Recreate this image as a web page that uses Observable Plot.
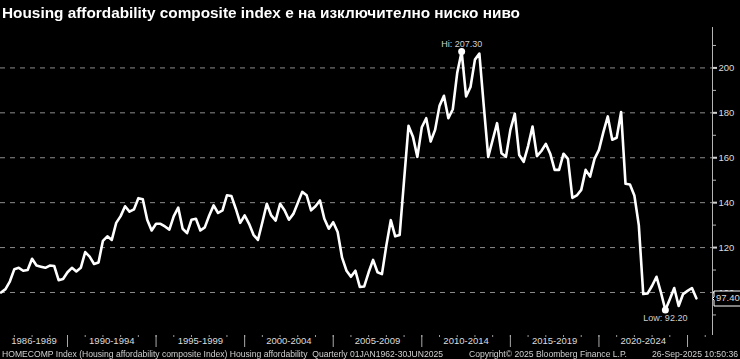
<!DOCTYPE html>
<html><head><meta charset="utf-8">
<script src="https://cdn.jsdelivr.net/npm/d3@7"></script>
<script src="https://cdn.jsdelivr.net/npm/@observablehq/plot@0.6"></script>
<style>
html,body{margin:0;padding:0;background:#000;width:740px;height:359px;overflow:hidden;}
#wrap{position:relative;width:740px;height:359px;background:#000;}
.fit{position:absolute;white-space:nowrap;transform-origin:0 0;line-height:1.15;}
#title{left:2px;top:4px;font:bold 15px "Liberation Sans",Arial,sans-serif;color:#fff;}
#chart{position:absolute;left:0;top:27px;}
.foot{top:347.5px;font:9.5px "Liberation Sans",Arial,sans-serif;color:#d0d0d0;}
</style></head>
<body><div id="wrap">
<div id="title" class="fit" data-w="518">Housing affordability composite index е на изключително ниско ниво</div>
<div id="chart"></div>
<div class="fit foot" style="left:2px" data-w="441">HOMECOMP Index (Housing affordability composite Index) Housing affordability&nbsp; Quarterly 01JAN1962-30JUN2025</div>
<div class="fit foot" style="left:469px" data-w="158">Copyright© 2025 Bloomberg Finance L.P.</div>
<div class="fit foot" style="left:652px" data-w="86">26-Sep-2025 10:50:36</div>
</div>
<script>
// Quarterly values, 1986 Q1 .. 2025 Q2
const values = [
  100, 101.5, 105, 110.4, 111, 109.7, 110, 115, 112, 111.5,
  111, 112, 111.8, 105.5, 106, 109, 111, 109.4, 111, 118,
  116, 112.7, 113.4, 123, 125, 123.4, 131, 134, 138.4, 136,
  137, 142, 141.5, 132.4, 127.6, 130.6, 130.6, 129.4, 128, 134,
  137.8, 128.4, 126.4, 132.4, 132.8, 127.6, 129, 134.3, 138.8, 135.4,
  136.6, 143.3, 143, 137.3, 131, 134.3, 130.6, 125.7, 123.4, 131.3,
  139.5, 134.3, 132, 139.5, 136.6, 132.4, 135, 139.9, 144.8, 143.3,
  136.6, 138.4, 141, 132.8, 128.4, 131.3, 126.9, 115.5, 109.7, 107,
  109.7, 102.5, 102.7, 109, 114.5, 109, 108.2, 121, 132.2, 125,
  125.6, 150, 174.2, 169.4, 160.4, 173.6, 177.6, 167.2, 172.4, 183.1,
  187.6, 177.6, 181.6, 197.8, 207.3, 187.3, 191.5, 203.7, 206.4, 183,
  160.4, 167.9, 175.4, 162, 160.4, 172.4, 179.6, 161.2, 158.2, 165.2,
  173.9, 160.7, 163, 166.2, 161.8, 154.6, 154.6, 161.8, 159.5, 142.1,
  143.2, 145.7, 154.6, 151.6, 159.5, 163.5, 171.4, 178.4, 168, 168.9,
  180.4, 148.4, 148.1, 143.2, 130, 99.3, 99.6, 103, 107, 100,
  92.2, 97, 102, 94, 99.3, 100.7, 102, 97.4
];
const firstQuarterEnd = 1986.25; // 1986 Q1 (dated at quarter end)
const xDomain = [1986.218, 2026.41];
const yDomain = [80.85, 218];
const yGridTicks = [100, 120, 140, 160, 180, 200];
const yMinorTicks = [90, 110, 130, 150, 170, 190, 210];
const separatorYears = [1990, 1995, 2000, 2005, 2010, 2015, 2020, 2025];
const yearTicks = d3.range(1987, 2027);
const periodLabels = ["1986-1989", "1990-1994", "1995-1999", "2000-2004", "2005-2009", "2010-2014", "2015-2019", "2020-2024"];
const periodStarts = [xDomain[0], 1990, 1995, 2000, 2005, 2010, 2015, 2020];
const periodEnds = [1990, 1995, 2000, 2005, 2010, 2015, 2020, 2025];

const data = values.map((v, i) => ({t: firstQuarterEnd + i / 4, v}));
const periods = periodLabels.map((label, i) => ({label, mid: (periodStarts[i] + periodEnds[i]) / 2}));
const hi = data.reduce((a, b) => (b.v > a.v ? b : a));
const lo = data.reduce((a, b) => (b.v < a.v ? b : a));
const lastPoint = {t: xDomain[1], v: values[values.length - 1]};

const lastMark = Plot.tip
  ? Plot.tip([lastPoint], {x: "t", y: "v", title: d => d.v.toFixed(2), anchor: "left",
      fill: "black", stroke: "white", fontSize: 9.5, textPadding: 2, pointerSize: 3})
  : Plot.text([lastPoint], {x: "t", y: "v", text: d => d.v.toFixed(2), textAnchor: "start", dx: 4, fill: "white", fontSize: 9.5});

const chart = Plot.plot({
  width: 740,
  height: 320,
  marginLeft: 0,
  marginRight: 28,
  marginTop: 0,
  marginBottom: 12,
  style: {background: "#000", color: "#dcdcdc", fontFamily: "'Liberation Sans', Arial, sans-serif", fontSize: "9.5px"},
  x: {domain: xDomain, axis: null},
  y: {domain: yDomain, axis: null},
  marks: [
    Plot.ruleY(yGridTicks, {stroke: "#8c8c8c", strokeDasharray: "5,5", strokeWidth: 1}),
    Plot.ruleX([xDomain[1]], {stroke: "#b4b4b4", strokeWidth: 1}),
    Plot.axisY({anchor: "right", ticks: yMinorTicks, tickSize: 3, fill: "none", label: null, stroke: "#b4b4b4"}),
    Plot.axisY({anchor: "right", ticks: yGridTicks, tickSize: 4, tickPadding: 2, strokeWidth: 2, label: null, stroke: "#d0d0d0", fill: "#dcdcdc", fontSize: 9.5}),
    Plot.axisX({ticks: yearTicks, tickSize: 2, fill: "none", label: null, stroke: "#999"}),
    Plot.axisX({ticks: separatorYears, tickSize: 12, fill: "none", label: null, stroke: "#aaa"}),
    Plot.text(periods, {x: "mid", text: "label", frameAnchor: "bottom", lineAnchor: "top", dy: 2, fill: "#dcdcdc", fontSize: 9.5}),
    Plot.line(data, {x: "t", y: "v", stroke: "white", strokeWidth: 2.6, strokeLinejoin: "round"}),
    Plot.dot([hi, lo], {x: "t", y: "v", r: 3.5, fill: "white"}),
    Plot.text([hi], {x: "t", y: "v", text: d => "Hi: " + d.v.toFixed(2), dy: -7, fill: "#cfcfcf", fontSize: 9}),
    Plot.text([lo], {x: "t", y: "v", text: d => "Low: " + d.v.toFixed(2), dy: 8, fill: "#cfcfcf", fontSize: 9}),
    lastMark
  ]
});
document.getElementById("chart").appendChild(chart);

document.querySelectorAll(".fit").forEach(el => {
  const w = el.getBoundingClientRect().width;
  const target = +el.dataset.w;
  if (w > 0) el.style.transform = `scaleX(${target / w})`;
});
</script>
</body></html>
